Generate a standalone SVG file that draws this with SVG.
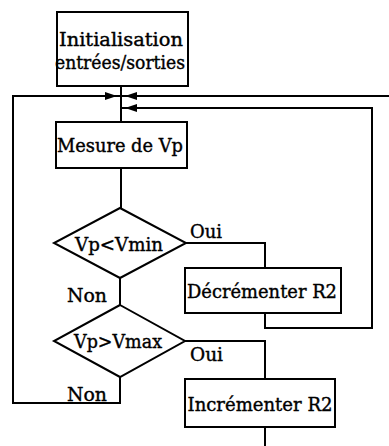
<svg xmlns="http://www.w3.org/2000/svg" xmlns:xlink="http://www.w3.org/1999/xlink" width="389" height="446" viewBox="0 0 389 446">
<style>
.box{fill:#fff;stroke:#000;stroke-width:2}
.ln{fill:none;stroke:#000;stroke-width:2}
.t{font-family:"DejaVu Serif","Liberation Serif",serif;font-size:19px;fill:#000;stroke:#000;stroke-width:0.4}
.c{text-anchor:middle}
</style>
<defs>
<path id="arr" d="M0,0 L-12,-4 L-12,4 Z" fill="#000"/>
</defs>
<rect width="389" height="446" fill="#fff"/>
<g id="connectors">
<path class="ln" d="M121,86 V122"/>
<path class="ln" d="M121,168 V208"/>
<path class="ln" d="M120,278 V305"/>
<path class="ln" d="M186,243 H265 V268"/>
<path class="ln" d="M265,313 V328 H372 V108 H121"/>
<path class="ln" d="M185,341 H265 V379"/>
<path class="ln" d="M265,427 V446"/>
<path class="ln" d="M120,377 V403 H13 V96 H389"/>
<use xlink:href="#arr" transform="translate(117,96)"/>
<use xlink:href="#arr" transform="translate(125,96) rotate(180)"/>
<use xlink:href="#arr" transform="translate(125,108) rotate(180)"/>
</g>
<g id="init">
<rect class="box" x="57" y="12" width="131" height="74"/>
<text class="t c" x="121" y="46" textLength="124" lengthAdjust="spacingAndGlyphs">Initialisation</text>
<text class="t c" x="120" y="69" textLength="130" lengthAdjust="spacingAndGlyphs">entrées/sorties</text>
</g>
<g id="mesure">
<rect class="box" x="56" y="122" width="131" height="46"/>
<text class="t c" x="120" y="152" textLength="126" lengthAdjust="spacingAndGlyphs">Mesure de Vp</text>
</g>
<g id="test-vmin">
<polygon class="box" points="120,208 186,243 120,278 54,243"/>
<text class="t c" x="119" y="251" textLength="88" lengthAdjust="spacingAndGlyphs">Vp&lt;Vmin</text>
</g>
<g id="decrementer">
<rect class="box" x="185" y="268" width="156" height="45"/>
<text class="t c" x="262" y="298" textLength="150" lengthAdjust="spacingAndGlyphs">Décrémenter R2</text>
</g>
<g id="test-vmax">
<polygon class="box" points="120,305 185,341 120,377 54,341"/>
<text class="t c" x="118" y="348" textLength="88" lengthAdjust="spacingAndGlyphs">Vp&gt;Vmax</text>
</g>
<g id="incrementer">
<rect class="box" x="185" y="379" width="150" height="48"/>
<text class="t c" x="260" y="411" textLength="145" lengthAdjust="spacingAndGlyphs">Incrémenter R2</text>
</g>
<g id="labels">
<text class="t" x="190" y="238" textLength="32" lengthAdjust="spacingAndGlyphs">Oui</text>
<text class="t" x="67" y="302" textLength="40" lengthAdjust="spacingAndGlyphs">Non</text>
<text class="t" x="190" y="361" textLength="33" lengthAdjust="spacingAndGlyphs">Oui</text>
<text class="t" x="67" y="401" textLength="40" lengthAdjust="spacingAndGlyphs">Non</text>
</g>
</svg>
